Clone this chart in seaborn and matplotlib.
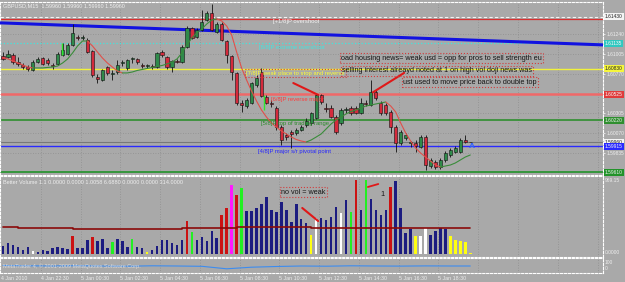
import matplotlib
matplotlib.use("Agg")
import matplotlib.pyplot as plt
import matplotlib.transforms as mtransforms
import numpy as np
import pandas as pd
import seaborn as sns

# ------------------------------------------------------------------ data
opens = [1.6098,1.6097,1.6099,1.6091,1.6087,1.6085,1.6081,1.6091,1.6096,1.6093,
         1.6087,1.6088,1.6099,1.6100,1.6111,1.6120,1.6119,1.6117,1.6104,1.6073,
         1.6070,1.6085,1.6077,1.6079,1.6090,1.6084,1.6094,1.6094,1.6087,1.6086,
         1.6086,1.6085,1.6103,1.6097,1.6085,1.6092,1.6091,1.6109,1.6131,1.6120,
         1.6129,1.6140,1.6149,1.6126,1.6136,1.6116,1.6098,1.6078,1.6042,1.6039,
         1.6042,1.6064,1.6079,1.6050,1.6042,1.6037,1.6014,1.6005,1.6008,1.6007,
         1.6011,1.6017,1.6019,1.6025,1.6052,1.6037,1.6037,1.6026,1.6019,1.6034,
         1.6037,1.6037,1.6031,1.6042,1.6040,1.6055,1.6042,1.6040,1.6032,1.6014,
         1.5995,1.6001,1.5995,1.5995,1.5991,1.6002,1.5968,1.5973,1.5967,1.5975,
         1.5981,1.5985,1.5985,1.5999,1.5996]
closes = [1.6094,1.6100,1.6091,1.6088,1.6085,1.6083,1.6091,1.6094,1.6088,1.6090,
          1.6086,1.6100,1.6105,1.6111,1.6125,1.6119,1.6120,1.6103,1.6076,1.6071,
          1.6081,1.6078,1.6078,1.6087,1.6091,1.6093,1.6095,1.6091,1.6086,1.6087,
          1.6085,1.6101,1.6099,1.6085,1.6092,1.6091,1.6109,1.6131,1.6119,1.6129,
          1.6138,1.6149,1.6129,1.6136,1.6117,1.6099,1.6079,1.6042,1.6040,1.6046,
          1.6066,1.6072,1.6051,1.6042,1.6041,1.6014,1.5999,1.6002,1.6006,1.6011,
          1.6014,1.6021,1.6031,1.6052,1.6044,1.6035,1.6026,1.6008,1.6034,1.6035,
          1.6031,1.6031,1.6042,1.6041,1.6055,1.6048,1.6031,1.6031,1.6014,1.5995,
          1.6008,1.6005,1.5996,1.5992,1.6002,1.5969,1.5975,1.5967,1.5975,1.5984,
          1.5987,1.5989,1.5999,1.5996,1.5996]
highs = [1.6103,1.6105,1.6101,1.6097,1.6090,1.6087,1.6093,1.6097,1.6097,1.6096,
         1.6090,1.6103,1.6113,1.6113,1.6136,1.6123,1.6123,1.6119,1.6105,1.6077,
         1.6083,1.6086,1.6081,1.6093,1.6093,1.6094,1.6097,1.6096,1.6090,1.6088,
         1.6088,1.6103,1.6105,1.6098,1.6093,1.6094,1.6111,1.6133,1.6132,1.6131,
         1.6152,1.6151,1.6159,1.6138,1.6138,1.6117,1.6099,1.6079,1.6046,1.6048,
         1.6067,1.6076,1.6084,1.6052,1.6046,1.6039,1.6017,1.6007,1.6011,1.6013,
         1.6017,1.6025,1.6032,1.6053,1.6053,1.6042,1.6040,1.6028,1.6037,1.6038,
         1.6039,1.6039,1.6048,1.6046,1.6070,1.6058,1.6045,1.6042,1.6034,1.6017,
         1.6011,1.6007,1.5998,1.5999,1.6005,1.6005,1.5978,1.5975,1.5978,1.5986,
         1.5989,1.5992,1.6001,1.6005,1.5996]
lows = [1.6093,1.6096,1.6088,1.6086,1.6083,1.6080,1.6080,1.6090,1.6087,1.6087,
        1.6083,1.6087,1.6098,1.6099,1.6110,1.6117,1.6117,1.6101,1.6073,1.6066,
        1.6068,1.6076,1.6070,1.6077,1.6086,1.6081,1.6090,1.6088,1.6084,1.6084,
        1.6083,1.6084,1.6097,1.6083,1.6079,1.6090,1.6090,1.6107,1.6118,1.6119,
        1.6127,1.6139,1.6127,1.6125,1.6116,1.6090,1.6070,1.6040,1.6032,1.6037,
        1.6041,1.6061,1.6050,1.6041,1.6038,1.6011,1.5993,1.5999,1.5989,1.6005,
        1.6009,1.6014,1.6017,1.6024,1.6041,1.6032,1.6025,1.6006,1.6017,1.6031,
        1.6028,1.6029,1.6029,1.6039,1.6039,1.6046,1.6028,1.6028,1.6007,1.5985,
        1.5993,1.5999,1.5991,1.5985,1.5989,1.5963,1.5966,1.5965,1.5965,1.5973,
        1.5979,1.5984,1.5984,1.5995,1.5996]
ma_line = [1.60961,1.60944,1.60920,1.60897,1.60873,1.60849,1.60838,1.60838,1.60838,1.60844,
           1.60849,1.60861,1.60897,1.60944,1.61015,1.61097,1.61156,1.61156,1.61097,1.61026,
           1.60956,1.60897,1.60849,1.60802,1.60779,1.60779,1.60790,1.60808,1.60820,1.60832,
           1.60844,1.60855,1.60867,1.60885,1.60908,1.60944,1.61015,1.61109,1.61192,1.61251,
           1.61298,1.61357,1.61404,1.61416,1.61392,1.61333,1.61227,1.61026,1.60838,1.60696,
           1.60566,1.60448,1.60342,1.60259,1.60189,1.60141,1.60094,1.60059,1.60023,1.59994,
           1.59976,1.59964,1.59988,1.60023,1.60059,1.60118,1.60177,1.60224,1.60259,1.60295,
           1.60324,1.60342,1.60366,1.60389,1.60401,1.60413,1.60425,1.60436,1.60389,1.60318,
           1.60189,1.60071,1.59976,1.59894,1.59835,1.59787,1.59740,1.59693,1.59669,1.59681,
           1.59693,1.59717,1.59752,1.59787,1.59811]
volumes = [105,144,118,92,52,92,39,26,52,39,
           79,92,79,66,236,79,79,183,223,170,
           197,79,157,197,170,92,197,92,79,26,
           52,105,183,183,144,118,183,432,288,183,
           223,170,301,210,511,603,904,773,865,563,
           563,603,655,747,576,550,681,576,419,655,
           459,406,249,472,472,445,485,616,537,707,
           550,969,576,965,720,576,511,576,878,960,
           603,275,328,236,236,341,249,301,341,328,
           236,183,170,157,13]
# bar colour class per bar: n navy, r red, g green, m magenta, w white, y yellow
vol_kind = ["n", "n", "n", "n", "n", "n", "w", "n", "n", "n",
            "n", "n", "n", "n", "r", "n", "n", "n", "r", "n",
            "n", "n", "g", "n", "n", "n", "g", "n", "n", "y",
            "n", "n", "n", "n", "n", "n", "n", "r", "g", "n",
            "n", "n", "n", "n", "r", "r", "m", "r", "g", "n",
            "n", "n", "n", "n", "n", "n", "n", "n", "n", "n",
            "n", "n", "y", "w", "n", "n", "n", "n", "w", "n",
            "g", "r", "n", "g", "n", "n", "n", "n", "r", "n",
            "n", "n", "n", "y", "w", "w", "n", "n", "n", "n",
            "y", "y", "y", "y", "y"]
vol_avg_breaks = [0, 3, 14, 21, 36, 47, 62, 75, 94]
vol_avg_levels = [350, 337, 331, 324, 337, 358, 345, 337]
osc_bars = [0, 5, 10, 15, 20, 25, 30, 35, 40, 45, 50, 55, 60, 65, 70, 75, 80, 85, 90, 94]
osc_vals = [55, 52, 50, 53, 50, 48, 52, 50, 47, 22, 38, 45, 50, 48, 52, 50, 49, 51, 50, 50]
trend_bars = [-0.6, 120.7]
trend_prices = [1.6137, 1.6111]
price_ticks = [1.61240, 1.61005, 1.60770, 1.60305, 1.60070, 1.59835]
x_labels = ["4 Jan 2010", "4 Jan 22:30", "5 Jan 00:30", "5 Jan 02:30", "5 Jan 04:30",
            "5 Jan 06:30", "5 Jan 08:30", "5 Jan 10:30", "5 Jan 12:30", "5 Jan 14:30",
            "5 Jan 16:30", "5 Jan 18:30"]
levels = [  # price, colour, width, style, right-label, label bg, label fg
    (1.61443, "#f4f4f4", 0.8, (0, (3, 2)), "1.61430", "#f4f4f4", "#202020"),
    (1.61412, "#d83030", 0.9, "-", None, None, None),
    (1.61127, "#40e6e0", 0.9, ":", "1.61135", "#30c8c0", "#f8f8f8"),
    (1.60826, "#f2f23a", 1.0, "-", "1.60830", "#f6f63c", "#202020"),
    (1.60525, "#f06868", 1.8, "-", "1.60525", "#e03a3a", "#f8f8f8"),
    (1.60218, "#2f8f2f", 1.2, "-", "1.60220", "#2f8f2f", "#f0f0f0"),
    (1.59960, "#787878", 0.8, "-", "1.59960", "#f4f4f4", "#202020"),
    (1.59914, "#2a2aff", 1.0, "-", "1.59915", "#2a2aff", "#f8f8f8"),
    (1.59610, "#22932a", 1.2, "-", "1.59610", "#22932a", "#f0f0f0"),
]
arrow_bars = [11.9, 52.5]
arrow_lo = [1.6099, 1.6034]
arrow_hi = [1.6113, 1.6052]
note_line1_bars, note_line1_prices = [58.4, 63.4], [1.6066, 1.6052]
note_line2_bars, note_line2_prices = [74.4, 80.7], [1.6055, 1.6078]
vol_note1_bars, vol_note1_vals = [60.2, 63.4], [603, 432]
vol_note2_bars, vol_note2_vals = [73.4, 75.5], [878, 917]

# ------------------------------------------------------------------ style
sns.set_theme(style="white")
plt.rcParams["font.family"] = ["Liberation Sans", "DejaVu Sans"]
BG = "#a9a9a9"
GRID = "#8e8e8e"
LIGHT = "#eeeeee"
BULL, BEAR = "#2f8a4a", "#d42a3c"
W, H = 625, 282


def fx(x):
    return x / W


def fy(y):
    return 1 - y / H


fig = plt.figure(figsize=(6.25, 2.82), dpi=100, facecolor=BG)
ax = fig.add_axes([0, fy(175), fx(603), fy(2) - fy(175)])
axv = fig.add_axes([0, fy(257), fx(603), fy(176) - fy(257)])
axb = fig.add_axes([0, fy(273), fx(603), fy(258) - fy(273)])

grid_bars = np.arange(1, 16) * 8 - 0.4
for a in (ax, axv, axb):
    a.set_facecolor(BG)
    for s in a.spines.values():
        s.set_color("white")
        s.set_linestyle((0, (2, 1.5)))
        s.set_linewidth(0.8)
    a.set_xlim(-0.6, 120.7)
    for gb in grid_bars:
        a.axvline(gb, color=GRID, ls=(0, (1, 2)), lw=0.6, zorder=0)

# ------------------------------------------------------------------ main price panel
bars = np.arange(len(opens))
o, c, h, l = map(np.array, (opens, closes, highs, lows))
up = c >= o
ax.vlines(bars, l, h, color="#111111", lw=0.6, zorder=5)
body_lo = np.minimum(o, c)
body_h = np.maximum(np.abs(c - o), 0.00007)
ax.bar(bars, body_h, bottom=body_lo, width=0.65,
       color=np.where(up, BULL, BEAR), edgecolor="#111111", linewidth=0.4, zorder=6)

for p, col, lw, ls, *_ in levels:
    ax.axhline(p, color=col, lw=lw, ls=ls, zorder=2)
for t in price_ticks:
    ax.axhline(t, color=GRID, ls=(0, (1, 2)), lw=0.6, zorder=0)

sns.lineplot(x=trend_bars, y=trend_prices, color="#1212e0", lw=2.2, ax=ax, zorder=4)

ma = np.array(ma_line)
start = 0
for i in range(1, len(ma)):
    falling = ma[i] < ma[i - 1]
    last = i == len(ma) - 1
    nxt_falling = (ma[i + 1] < ma[i]) if not last else falling
    if last or nxt_falling != falling:
        sns.lineplot(x=bars[start:i + 1], y=ma[start:i + 1],
                     color="#e0504a" if falling else "#3a8c3a",
                     lw=0.8, ax=ax, zorder=7, sort=False, estimator=None)
        start = i

ax.vlines(arrow_bars, arrow_lo, arrow_hi, color="#2ee82e", lw=1.0, zorder=8)
ax.plot(note_line1_bars, note_line1_prices, color="#e01818", lw=1.5, zorder=9)
ax.plot(note_line2_bars, note_line2_prices, color="#e01818", lw=1.5, zorder=9)

ax.set_xlim(-0.6, 120.7)
ax.set_ylim(1.59575, 1.61616)
ax.yaxis.tick_right()
ax.set_yticks(price_ticks)
ax.set_yticklabels([f"{t:.5f}" for t in price_ticks])
ax.tick_params(axis="y", colors=LIGHT, labelsize=3.5, length=1.5, width=0.6, pad=1)
ax.set_xticks([])
ax.set_xlabel("")
ax.set_ylabel("")

trans = mtransforms.blended_transform_factory(ax.transAxes, ax.transData)
for p, col, lw, ls, lab, bg, fg in levels:
    if lab:
        ax.text(1.003, p, lab, transform=trans, fontsize=3.5, color=fg, va="center",
                ha="left", clip_on=False, zorder=20,
                bbox=dict(boxstyle="square,pad=0.2", fc=bg, ec="none"))

# ------------------------------------------------------------------ volume panel
vol_df = pd.DataFrame({"bar": bars, "volume": volumes, "kind": vol_kind})
vol_pal = {"n": "#1c1c80", "r": "#cc1212", "g": "#22f022", "m": "#ff18ff",
           "w": "#ffffff", "y": "#ffff10"}
sns.barplot(data=vol_df, x="bar", y="volume", hue="kind", palette=vol_pal,
            native_scale=True, dodge=False, width=0.5, saturation=1,
            errorbar=None, legend=False, ax=axv, zorder=3,
            edgecolor="none", linewidth=0)
sns.lineplot(x=vol_avg_breaks, y=vol_avg_levels + [vol_avg_levels[-1]],
             drawstyle="steps-post", color="#8a0a0a", lw=1.2, ax=axv, zorder=4)
axv.plot(vol_note1_bars, vol_note1_vals, color="#e01818", lw=1.5, zorder=9)
axv.plot(vol_note2_bars, vol_note2_vals, color="#e01818", lw=1.3, zorder=9)
axv.set_xlim(-0.6, 120.7)
axv.set_ylim(-39, 1022)
axv.set_xticks([])
axv.set_yticks([])
axv.set_xlabel("")
axv.set_ylabel("")

# ------------------------------------------------------------------ bottom panel
sns.lineplot(x=osc_bars, y=osc_vals, color="#3c8cf0", lw=0.8, ax=axb)
axb.set_ylim(-20, 130)
axb.set_xlim(-0.6, 120.7)
axb.set_yticks([])
label_bars = np.concatenate([[-0.4], grid_bars[:11]])
axb.set_xticks(label_bars)
axb.set_xticklabels(x_labels)
for lab in axb.get_xticklabels():
    lab.set_ha("left")
axb.tick_params(axis="x", colors=LIGHT, labelsize=3.8, length=2, width=0.6, pad=0.5)
axb.set_xlabel("")
axb.set_ylabel("")

# ------------------------------------------------------------------ texts
fig.text(fx(3), fy(6), "GBPUSD,M15  1.59960 1.59960 1.59960 1.59960",
         color=LIGHT, fontsize=4.0, va="center", ha="left")
murrey = [("[+1/8]P overshoot", 273, 21, "#f4f4f4", False),
          ("[8/8]P extreme overshoot", 259, 47, "#40e6e0", False),
          ("[7/8]P weak place to stop and reverse", 246, 73, "#ffff30", True),
          ("[6/8]P reverse major", 271, 99, "#ff3a3a", False),
          ("[5/8]P top of trading range", 261, 124, "#2a8a2a", False),
          ("[4/8]P major s/r pivotal point", 258, 151, "#2424ff", False)]
for txt, x, y, col, boxed in murrey:
    kw = {}
    if boxed:
        kw["bbox"] = dict(boxstyle="square,pad=0.2", fc="none", ec="#d23c3c",
                          ls=":", lw=0.8)
    fig.text(fx(x), fy(y), txt, color=col, fontsize=4.2, va="center", ha="left",
             zorder=30, **kw)

notes = [("oad housing news= weak usd = opp for pros to sell strength eu", 341, 58),
         ("selling interest alreayd noted at 1 on high vol doji news was", 342, 71),
         ("ust used to move price back to double top", 403, 82),
         ("no vol = weak", 281, 192)]
for txt, x, y in notes:
    fig.text(fx(x), fy(y), txt, color="#151515", fontsize=5.2, va="center", ha="left",
             zorder=30, bbox=dict(boxstyle="square,pad=0.2", fc="none", ec="#d23c3c",
                                  ls=":", lw=0.8))
fig.text(fx(380), fy(195), "1", color="#151515", fontsize=5.2, va="center", ha="left")
fig.text(fx(469), fy(147), "A", color="#2a5cff", fontsize=6, fontweight="bold",
         va="center", ha="left")

fig.text(fx(3), fy(182),
         "Better Volume 1.1 0.0000 0.0000 1.0058 6.6880 0.0000 0.0000 314.0000",
         color=LIGHT, fontsize=4.0, va="center", ha="left")
fig.text(fx(605), fy(180), "969.15", color=LIGHT, fontsize=3.5, va="center", ha="left")
fig.text(fx(605), fy(253), "0.0000", color=LIGHT, fontsize=3.5, va="center", ha="left")
fig.text(fx(605), fy(262), "100", color=LIGHT, fontsize=3.5, va="center", ha="left")
fig.text(fx(605), fy(268), "0", color=LIGHT, fontsize=3.5, va="center", ha="left")
fig.text(fx(3), fy(266), "MetaTrader 4, \u00a9 2001-2009 MetaQuotes Software Corp.",
         color="#dcdcdc", fontsize=4.0, va="center", ha="left")

fig.savefig("out.png", dpi=100, facecolor=BG)
